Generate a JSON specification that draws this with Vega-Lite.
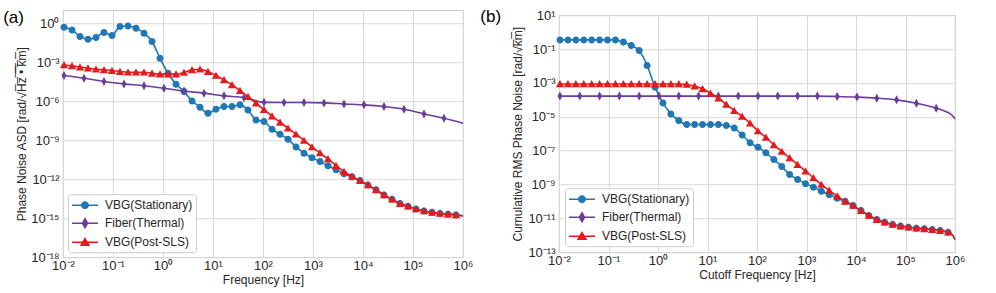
{
  "$schema": "https://vega.github.io/schema/vega-lite/v6.json",
  "padding": {"left": 2, "top": 7, "right": 5, "bottom": 5},
  "autosize": {"type": "pad"},
  "background": "white",
  "config": {
    "font": "Liberation Sans",
    "view": {"stroke": "#cccccc", "strokeWidth": 1.2},
    "axis": {"grid": true, "gridColor": "#d9d9d9", "gridWidth": 1.1, "domain": false, "ticks": false, "labelFontSize": 13, "labelColor": "#262626", "titleFontSize": 12, "titleFontWeight": "normal", "titleColor": "#262626", "labelPadding": 4, "labelFlush": false, "labelOverlap": false, "labelBound": false},
    "axisX": {"labelPadding": 2, "titlePadding": 2},
    "legend": {"orient": "bottom-left", "offset": 5, "labelFontSize": 12, "labelColor": "#262626", "fillColor": "rgba(255,255,255,0.85)", "strokeColor": "#cccccc", "cornerRadius": 3, "padding": 3, "rowPadding": 3, "symbolSize": 196, "symbolOffset": 6, "labelOffset": 12},
    "title": {"fontSize": 17, "fontWeight": "normal", "color": "#000000"}
  },
  "datasets": {
    "a": [
      {"f": 0.01047, "VBG(Stationary)": 0.49, "VBG(Post-SLS)": 6.17e-4},
      {"f": 0.01514, "VBG(Stationary)": 0.302, "VBG(Post-SLS)": 5.25e-4},
      {"f": 0.02188, "VBG(Stationary)": 0.0955, "VBG(Post-SLS)": 4.17e-4},
      {"f": 0.03162, "VBG(Stationary)": 0.0589, "VBG(Post-SLS)": 3.47e-4},
      {"f": 0.04571, "VBG(Stationary)": 0.0794, "VBG(Post-SLS)": 2.88e-4},
      {"f": 0.06607, "VBG(Stationary)": 0.191, "VBG(Post-SLS)": 2.57e-4},
      {"f": 0.0955, "VBG(Stationary)": 0.112, "VBG(Post-SLS)": 2.29e-4},
      {"f": 0.138, "VBG(Stationary)": 0.562, "VBG(Post-SLS)": 1.91e-4},
      {"f": 0.1995, "VBG(Stationary)": 0.617, "VBG(Post-SLS)": 1.7e-4},
      {"f": 0.2884, "VBG(Stationary)": 0.417, "VBG(Post-SLS)": 1.7e-4},
      {"f": 0.4169, "VBG(Stationary)": 0.17, "VBG(Post-SLS)": 1.7e-4},
      {"f": 0.6026, "VBG(Stationary)": 0.0389, "VBG(Post-SLS)": 1.41e-4},
      {"f": 0.871, "VBG(Stationary)": 0.00204, "VBG(Post-SLS)": 1.2e-4},
      {"f": 1.259, "VBG(Stationary)": 1.41e-4, "VBG(Post-SLS)": 1.2e-4},
      {"f": 1.82, "VBG(Stationary)": 2.04e-5, "VBG(Post-SLS)": 1.2e-4},
      {"f": 2.63, "VBG(Stationary)": 5.62e-6, "VBG(Post-SLS)": 1.62e-4},
      {"f": 3.802, "VBG(Stationary)": 1.05e-6, "VBG(Post-SLS)": 2.57e-4},
      {"f": 5.495, "VBG(Stationary)": 3.47e-7, "VBG(Post-SLS)": 2.88e-4},
      {"f": 7.943, "VBG(Stationary)": 1.2e-7, "VBG(Post-SLS)": 1.91e-4},
      {"f": 11.48, "VBG(Stationary)": 2.4e-7, "VBG(Post-SLS)": 9.55e-5},
      {"f": 16.6, "VBG(Stationary)": 3.89e-7, "VBG(Post-SLS)": 4.37e-5},
      {"f": 23.99, "VBG(Stationary)": 3.89e-7, "VBG(Post-SLS)": 1.78e-5},
      {"f": 34.67, "VBG(Stationary)": 5.25e-7, "VBG(Post-SLS)": 6.61e-6},
      {"f": 50.12, "VBG(Stationary)": 2.14e-7, "VBG(Post-SLS)": 2.29e-6},
      {"f": 72.44, "VBG(Stationary)": 3.63e-8, "VBG(Post-SLS)": 7.08e-7},
      {"f": 104.7, "VBG(Stationary)": 2.75e-8, "VBG(Post-SLS)": 2.24e-7},
      {"f": 151.4, "VBG(Stationary)": 7.08e-9, "VBG(Post-SLS)": 7.08e-8},
      {"f": 218.8, "VBG(Stationary)": 2.88e-9, "VBG(Post-SLS)": 2.4e-8},
      {"f": 316.2, "VBG(Stationary)": 1.2e-9, "VBG(Post-SLS)": 8.32e-9},
      {"f": 457.1, "VBG(Stationary)": 3.02e-10, "VBG(Post-SLS)": 2.88e-9},
      {"f": 660.7, "VBG(Stationary)": 1e-10, "VBG(Post-SLS)": 9.55e-10},
      {"f": 955, "VBG(Stationary)": 4.47e-11, "VBG(Post-SLS)": 3.02e-10},
      {"f": 1380, "VBG(Stationary)": 2.29e-11, "VBG(Post-SLS)": 1.05e-10},
      {"f": 1995, "VBG(Stationary)": 1.1e-11, "VBG(Post-SLS)": 3.63e-11},
      {"f": 2884, "VBG(Stationary)": 5.25e-12, "VBG(Post-SLS)": 1.12e-11},
      {"f": 4169, "VBG(Stationary)": 2.57e-12, "VBG(Post-SLS)": 3.89e-12},
      {"f": 6026, "VBG(Stationary)": 1.51e-12, "VBG(Post-SLS)": 1.62e-12},
      {"f": 8710, "VBG(Stationary)": 7.94e-13, "VBG(Post-SLS)": 7.94e-13},
      {"f": 12590, "VBG(Stationary)": 3.63e-13, "VBG(Post-SLS)": 3.63e-13},
      {"f": 18200, "VBG(Stationary)": 1.51e-13, "VBG(Post-SLS)": 1.51e-13},
      {"f": 26300, "VBG(Stationary)": 6.17e-14, "VBG(Post-SLS)": 6.17e-14},
      {"f": 38020, "VBG(Stationary)": 2.88e-14, "VBG(Post-SLS)": 2.88e-14},
      {"f": 54950, "VBG(Stationary)": 1.35e-14, "VBG(Post-SLS)": 1.35e-14},
      {"f": 79430, "VBG(Stationary)": 8.32e-15, "VBG(Post-SLS)": 8.32e-15},
      {"f": 114800, "VBG(Stationary)": 5.13e-15, "VBG(Post-SLS)": 5.13e-15},
      {"f": 166000, "VBG(Stationary)": 3.63e-15, "VBG(Post-SLS)": 3.63e-15},
      {"f": 239900, "VBG(Stationary)": 2.82e-15, "VBG(Post-SLS)": 2.82e-15},
      {"f": 346700, "VBG(Stationary)": 2.34e-15, "VBG(Post-SLS)": 2.34e-15},
      {"f": 501200, "VBG(Stationary)": 2.04e-15, "VBG(Post-SLS)": 2.04e-15},
      {"f": 724400, "VBG(Stationary)": 1.78e-15, "VBG(Post-SLS)": 1.78e-15},
      {"f": 1000000, "VBG(Stationary)": 1.51e-15, "VBG(Post-SLS)": 1.51e-15}
    ],
    "a_fib": [
      {"f": 0.01047, "Fiber(Thermal)": 9.55e-5},
      {"f": 0.0263, "Fiber(Thermal)": 5.89e-5},
      {"f": 0.06607, "Fiber(Thermal)": 3.31e-5},
      {"f": 0.166, "Fiber(Thermal)": 2.14e-5},
      {"f": 0.4169, "Fiber(Thermal)": 1.55e-5},
      {"f": 1.047, "Fiber(Thermal)": 1e-5},
      {"f": 2.63, "Fiber(Thermal)": 6.03e-6},
      {"f": 6.607, "Fiber(Thermal)": 4.17e-6},
      {"f": 16.6, "Fiber(Thermal)": 2.57e-6},
      {"f": 41.69, "Fiber(Thermal)": 1.86e-6},
      {"f": 104.7, "Fiber(Thermal)": 8.13e-7},
      {"f": 263, "Fiber(Thermal)": 7.94e-7},
      {"f": 660.7, "Fiber(Thermal)": 7.94e-7},
      {"f": 1660, "Fiber(Thermal)": 7.41e-7},
      {"f": 4169, "Fiber(Thermal)": 6.17e-7},
      {"f": 10470, "Fiber(Thermal)": 5.25e-7},
      {"f": 26300, "Fiber(Thermal)": 3.89e-7},
      {"f": 66070, "Fiber(Thermal)": 2.4e-7},
      {"f": 166000, "Fiber(Thermal)": 1.05e-7},
      {"f": 416900, "Fiber(Thermal)": 4.9e-8},
      {"f": 1000000, "Fiber(Thermal)": 2.04e-8}
    ],
    "b": [
      {"f": 0.01047, "VBG(Stationary)": 0.347, "VBG(Post-SLS)": 8.71e-4},
      {"f": 0.01514, "VBG(Stationary)": 0.347, "VBG(Post-SLS)": 8.71e-4},
      {"f": 0.02188, "VBG(Stationary)": 0.347, "VBG(Post-SLS)": 8.71e-4},
      {"f": 0.03162, "VBG(Stationary)": 0.347, "VBG(Post-SLS)": 8.71e-4},
      {"f": 0.04571, "VBG(Stationary)": 0.347, "VBG(Post-SLS)": 8.71e-4},
      {"f": 0.06607, "VBG(Stationary)": 0.347, "VBG(Post-SLS)": 8.71e-4},
      {"f": 0.0955, "VBG(Stationary)": 0.347, "VBG(Post-SLS)": 8.71e-4},
      {"f": 0.138, "VBG(Stationary)": 0.347, "VBG(Post-SLS)": 8.71e-4},
      {"f": 0.1995, "VBG(Stationary)": 0.257, "VBG(Post-SLS)": 8.71e-4},
      {"f": 0.2884, "VBG(Stationary)": 0.162, "VBG(Post-SLS)": 8.71e-4},
      {"f": 0.4169, "VBG(Stationary)": 0.0813, "VBG(Post-SLS)": 8.71e-4},
      {"f": 0.6026, "VBG(Stationary)": 0.0107, "VBG(Post-SLS)": 8.71e-4},
      {"f": 0.871, "VBG(Stationary)": 5.62e-4, "VBG(Post-SLS)": 8.71e-4},
      {"f": 1.259, "VBG(Stationary)": 6.61e-5, "VBG(Post-SLS)": 8.71e-4},
      {"f": 1.82, "VBG(Stationary)": 1.48e-5, "VBG(Post-SLS)": 8.71e-4},
      {"f": 2.63, "VBG(Stationary)": 6.03e-6, "VBG(Post-SLS)": 8.71e-4},
      {"f": 3.802, "VBG(Stationary)": 3.47e-6, "VBG(Post-SLS)": 8.13e-4},
      {"f": 5.495, "VBG(Stationary)": 3.47e-6, "VBG(Post-SLS)": 6.46e-4},
      {"f": 7.943, "VBG(Stationary)": 3.47e-6, "VBG(Post-SLS)": 4.47e-4},
      {"f": 11.48, "VBG(Stationary)": 3.47e-6, "VBG(Post-SLS)": 2.45e-4},
      {"f": 16.6, "VBG(Stationary)": 3.47e-6, "VBG(Post-SLS)": 1.26e-4},
      {"f": 23.99, "VBG(Stationary)": 3.02e-6, "VBG(Post-SLS)": 5.37e-5},
      {"f": 34.67, "VBG(Stationary)": 2.14e-6, "VBG(Post-SLS)": 2.34e-5},
      {"f": 50.12, "VBG(Stationary)": 8.51e-7, "VBG(Post-SLS)": 1.05e-5},
      {"f": 72.44, "VBG(Stationary)": 2.88e-7, "VBG(Post-SLS)": 4.17e-6},
      {"f": 104.7, "VBG(Stationary)": 1.58e-7, "VBG(Post-SLS)": 1.45e-6},
      {"f": 151.4, "VBG(Stationary)": 7.41e-8, "VBG(Post-SLS)": 6.03e-7},
      {"f": 218.8, "VBG(Stationary)": 3.02e-8, "VBG(Post-SLS)": 2.19e-7},
      {"f": 316.2, "VBG(Stationary)": 1.15e-8, "VBG(Post-SLS)": 8.91e-8},
      {"f": 457.1, "VBG(Stationary)": 3.89e-9, "VBG(Post-SLS)": 3.72e-8},
      {"f": 660.7, "VBG(Stationary)": 2e-9, "VBG(Post-SLS)": 1.51e-8},
      {"f": 955, "VBG(Stationary)": 1.1e-9, "VBG(Post-SLS)": 6.17e-9},
      {"f": 1380, "VBG(Stationary)": 6.92e-10, "VBG(Post-SLS)": 2.45e-9},
      {"f": 1995, "VBG(Stationary)": 3.98e-10, "VBG(Post-SLS)": 1e-9},
      {"f": 2884, "VBG(Stationary)": 2.45e-10, "VBG(Post-SLS)": 4.47e-10},
      {"f": 4169, "VBG(Stationary)": 1.55e-10, "VBG(Post-SLS)": 2.04e-10},
      {"f": 6026, "VBG(Stationary)": 1.02e-10, "VBG(Post-SLS)": 1.02e-10},
      {"f": 8710, "VBG(Stationary)": 5.75e-11, "VBG(Post-SLS)": 5.75e-11},
      {"f": 12590, "VBG(Stationary)": 2.88e-11, "VBG(Post-SLS)": 2.88e-11},
      {"f": 18200, "VBG(Stationary)": 1.48e-11, "VBG(Post-SLS)": 1.48e-11},
      {"f": 26300, "VBG(Stationary)": 8.51e-12, "VBG(Post-SLS)": 8.51e-12},
      {"f": 38020, "VBG(Stationary)": 5.89e-12, "VBG(Post-SLS)": 5.89e-12},
      {"f": 54950, "VBG(Stationary)": 4.37e-12, "VBG(Post-SLS)": 4.37e-12},
      {"f": 79430, "VBG(Stationary)": 3.47e-12, "VBG(Post-SLS)": 3.47e-12},
      {"f": 114800, "VBG(Stationary)": 3.02e-12, "VBG(Post-SLS)": 3.02e-12},
      {"f": 166000, "VBG(Stationary)": 2.63e-12, "VBG(Post-SLS)": 2.63e-12},
      {"f": 239900, "VBG(Stationary)": 2.4e-12, "VBG(Post-SLS)": 2.4e-12},
      {"f": 346700, "VBG(Stationary)": 2.19e-12, "VBG(Post-SLS)": 2.19e-12},
      {"f": 501200, "VBG(Stationary)": 1.91e-12, "VBG(Post-SLS)": 1.91e-12},
      {"f": 724400, "VBG(Stationary)": 1.51e-12, "VBG(Post-SLS)": 1.51e-12},
      {"f": 891300, "VBG(Stationary)": 1.02e-12, "VBG(Post-SLS)": 1.02e-12},
      {"f": 1000000, "VBG(Stationary)": 5.62e-13, "VBG(Post-SLS)": 5.62e-13}
    ],
    "b_fib": [
      {"f": 0.01047, "Fiber(Thermal)": 1.66e-4},
      {"f": 0.0263, "Fiber(Thermal)": 1.66e-4},
      {"f": 0.06607, "Fiber(Thermal)": 1.66e-4},
      {"f": 0.166, "Fiber(Thermal)": 1.66e-4},
      {"f": 0.4169, "Fiber(Thermal)": 1.66e-4},
      {"f": 1.047, "Fiber(Thermal)": 1.66e-4},
      {"f": 2.63, "Fiber(Thermal)": 1.66e-4},
      {"f": 6.607, "Fiber(Thermal)": 1.66e-4},
      {"f": 16.6, "Fiber(Thermal)": 1.66e-4},
      {"f": 41.69, "Fiber(Thermal)": 1.66e-4},
      {"f": 104.7, "Fiber(Thermal)": 1.66e-4},
      {"f": 263, "Fiber(Thermal)": 1.66e-4},
      {"f": 660.7, "Fiber(Thermal)": 1.66e-4},
      {"f": 1660, "Fiber(Thermal)": 1.66e-4},
      {"f": 4169, "Fiber(Thermal)": 1.58e-4},
      {"f": 10470, "Fiber(Thermal)": 1.45e-4},
      {"f": 26300, "Fiber(Thermal)": 1.26e-4},
      {"f": 66070, "Fiber(Thermal)": 1e-4},
      {"f": 166000, "Fiber(Thermal)": 6.31e-5},
      {"f": 416900, "Fiber(Thermal)": 3.24e-5},
      {"f": 631000, "Fiber(Thermal)": 2.14e-5},
      {"f": 794300, "Fiber(Thermal)": 1.55e-5},
      {"f": 912000, "Fiber(Thermal)": 1.07e-5},
      {"f": 1000000, "Fiber(Thermal)": 7.41e-6}
    ]
  },
  "resolve": {"scale": {"x": "independent", "y": "independent", "color": "independent"}, "legend": {"color": "independent"}},
  "spacing": 5,
  "center": true,
  "hconcat": [
    {
      "width": 400,
      "height": 247,
      "title": {"text": "(a)", "orient": "left", "anchor": "end", "frame": "group", "angle": 0, "align": "right", "baseline": "top", "offset": -13, "dx": 16, "dy": 0},
      "encoding": {
        "x": {"field": "f", "type": "quantitative", "scale": {"type": "log", "domain": [0.01, 1000000], "nice": false}, "axis": {"values": [0.01, 0.1, 1, 10, 100, 1000, 10000, 100000, 1000000], "labelExpr": "'10' + ['⁻²','⁻¹','⁰','¹','²','³','⁴','⁵','⁶'][round(log(datum.value)/LN10) + 2]", "title": "Frequency [Hz]"}},
        "y": {"field": "v", "type": "quantitative", "scale": {"type": "log", "domain": [1e-18, 10], "nice": false}, "axis": {"values": [1, 0.001, 1e-6, 1e-9, 1e-12, 1e-15, 1e-18], "labelExpr": "['10⁰','10⁻³','10⁻⁶','10⁻⁹','10⁻¹²','10⁻¹⁵','10⁻¹⁸'][round(-log(datum.value)/LN10/3)]", "title": "Phase Noise ASD [rad/√H̅z̅ ̅•̅ ̅k̅m̅]", "titlePadding": 2}},
        "color": {"field": "series", "type": "nominal", "scale": {"domain": ["VBG(Stationary)", "Fiber(Thermal)", "VBG(Post-SLS)"], "range": ["#1f77b4", "#6a3d9a", "#e41a1c"]},
          "legend": {"title": null, "encode": {"symbols": {"update": {
            "shape": {"signal": "datum.value === 'VBG(Stationary)' ? 'M-1.86,0H1.86M0.46,0A0.46,0.46 0 1 1 -0.46,0A0.46,0.46 0 1 1 0.46,0Z' : datum.value === 'Fiber(Thermal)' ? 'M-1.86,0H1.86M0,-0.64L0.37,0L0,0.64L-0.37,0Z' : 'M-1.86,0H1.86M0,-0.52L0.57,0.45L-0.57,0.45Z'"},
            "fill": {"signal": "datum.value === 'VBG(Stationary)' ? '#1f77b4' : datum.value === 'Fiber(Thermal)' ? '#6a3d9a' : '#e41a1c'"},
            "stroke": {"signal": "datum.value === 'VBG(Stationary)' ? '#1f77b4' : datum.value === 'Fiber(Thermal)' ? '#6a3d9a' : '#e41a1c'"},
            "strokeWidth": {"value": 1.5},
            "opacity": {"value": 1}
          }}}}
        }
      },
      "layer": [
        {"data": {"name": "a"}, "transform": [{"fold": ["VBG(Stationary)"], "as": ["series", "v"]}], "mark": {"type": "line", "strokeWidth": 1.6, "interpolate": "monotone"}},
        {"data": {"name": "a"}, "transform": [{"fold": ["VBG(Stationary)"], "as": ["series", "v"]}, {"filter": "datum.f < 800000"}], "mark": {"type": "point", "filled": true, "opacity": 1, "size": 81, "shape": "M0.78,0A0.78,0.78 0 1 1 -0.78,0A0.78,0.78 0 1 1 0.78,0Z"}},
        {"data": {"name": "a_fib"}, "transform": [{"fold": ["Fiber(Thermal)"], "as": ["series", "v"]}], "mark": {"type": "line", "strokeWidth": 1.6, "interpolate": "monotone"}},
        {"data": {"name": "a_fib"}, "transform": [{"fold": ["Fiber(Thermal)"], "as": ["series", "v"]}, {"filter": "datum.f < 500000"}], "mark": {"type": "point", "filled": true, "opacity": 1, "size": 81, "shape": "M0,-1L0.55,0L0,1L-0.55,0Z"}},
        {"data": {"name": "a"}, "transform": [{"fold": ["VBG(Post-SLS)"], "as": ["series", "v"]}], "mark": {"type": "line", "strokeWidth": 1.6, "interpolate": "monotone"}},
        {"data": {"name": "a"}, "transform": [{"fold": ["VBG(Post-SLS)"], "as": ["series", "v"]}, {"filter": "datum.f < 800000"}], "mark": {"type": "point", "filled": true, "opacity": 1, "size": 81, "shape": "M0,-0.85L0.92,0.75L-0.92,0.75Z"}}
      ]
    },
    {
      "width": 396,
      "height": 237,
      "title": {"text": "(b)", "orient": "left", "anchor": "end", "frame": "group", "angle": 0, "align": "right", "baseline": "top", "offset": 10, "dx": 20, "dy": -6},
      "encoding": {
        "x": {"field": "f", "type": "quantitative", "scale": {"type": "log", "domain": [0.01, 1000000], "nice": false}, "axis": {"values": [0.01, 0.1, 1, 10, 100, 1000, 10000, 100000, 1000000], "labelExpr": "'10' + ['⁻²','⁻¹','⁰','¹','²','³','⁴','⁵','⁶'][round(log(datum.value)/LN10) + 2]", "title": "Cutoff Frequency [Hz]"}},
        "y": {"field": "v", "type": "quantitative", "scale": {"type": "log", "domain": [1e-13, 10], "nice": false}, "axis": {"values": [10, 0.1, 0.001, 1e-5, 1e-7, 1e-9, 1e-11, 1e-13], "labelExpr": "['10¹','10⁻¹','10⁻³','10⁻⁵','10⁻⁷','10⁻⁹','10⁻¹¹','10⁻¹³'][round((1 - log(datum.value)/LN10)/2)]", "title": "Cumulative RMS Phase Noise [rad/√k̅m̅]", "titlePadding": 3}},
        "color": {"field": "series", "type": "nominal", "scale": {"domain": ["VBG(Stationary)", "Fiber(Thermal)", "VBG(Post-SLS)"], "range": ["#1f77b4", "#6a3d9a", "#e41a1c"]},
          "legend": {"title": null, "offset": 6, "encode": {"symbols": {"update": {
            "shape": {"signal": "datum.value === 'VBG(Stationary)' ? 'M-1.86,0H1.86M0.46,0A0.46,0.46 0 1 1 -0.46,0A0.46,0.46 0 1 1 0.46,0Z' : datum.value === 'Fiber(Thermal)' ? 'M-1.86,0H1.86M0,-0.64L0.37,0L0,0.64L-0.37,0Z' : 'M-1.86,0H1.86M0,-0.52L0.57,0.45L-0.57,0.45Z'"},
            "fill": {"signal": "datum.value === 'VBG(Stationary)' ? '#1f77b4' : datum.value === 'Fiber(Thermal)' ? '#6a3d9a' : '#e41a1c'"},
            "stroke": {"signal": "datum.value === 'VBG(Stationary)' ? '#1f77b4' : datum.value === 'Fiber(Thermal)' ? '#6a3d9a' : '#e41a1c'"},
            "strokeWidth": {"value": 1.5},
            "opacity": {"value": 1}
          }}}}
        }
      },
      "layer": [
        {"data": {"name": "b"}, "transform": [{"fold": ["VBG(Stationary)"], "as": ["series", "v"]}], "mark": {"type": "line", "strokeWidth": 1.6, "interpolate": "monotone"}},
        {"data": {"name": "b"}, "transform": [{"fold": ["VBG(Stationary)"], "as": ["series", "v"]}, {"filter": "datum.f < 800000"}], "mark": {"type": "point", "filled": true, "opacity": 1, "size": 81, "shape": "M0.78,0A0.78,0.78 0 1 1 -0.78,0A0.78,0.78 0 1 1 0.78,0Z"}},
        {"data": {"name": "b_fib"}, "transform": [{"fold": ["Fiber(Thermal)"], "as": ["series", "v"]}], "mark": {"type": "line", "strokeWidth": 1.6, "interpolate": "monotone"}},
        {"data": {"name": "b_fib"}, "transform": [{"fold": ["Fiber(Thermal)"], "as": ["series", "v"]}, {"filter": "datum.f < 500000"}], "mark": {"type": "point", "filled": true, "opacity": 1, "size": 81, "shape": "M0,-1L0.55,0L0,1L-0.55,0Z"}},
        {"data": {"name": "b"}, "transform": [{"fold": ["VBG(Post-SLS)"], "as": ["series", "v"]}], "mark": {"type": "line", "strokeWidth": 1.6, "interpolate": "monotone"}},
        {"data": {"name": "b"}, "transform": [{"fold": ["VBG(Post-SLS)"], "as": ["series", "v"]}, {"filter": "datum.f < 800000"}], "mark": {"type": "point", "filled": true, "opacity": 1, "size": 81, "shape": "M0,-0.85L0.92,0.75L-0.92,0.75Z"}}
      ]
    }
  ]
}
